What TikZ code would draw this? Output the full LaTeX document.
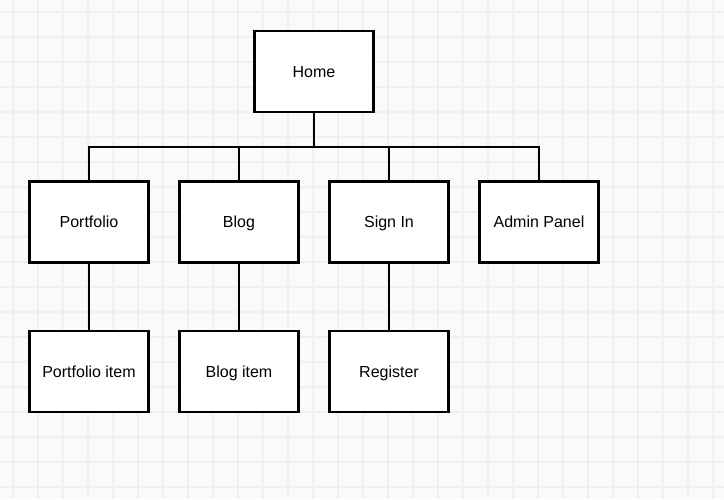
\documentclass[tikz,border=0pt]{standalone}
\usepackage{fontspec}
\setmainfont{Liberation Sans}

\tikzset{
  page/.style={draw, line width=2.8pt, fill=white, minimum width=119pt, minimum height=81pt,
    inner sep=0pt, text height=11.5pt, text depth=0pt, font=\fontsize{16}{19}\selectfont},
  link/.style={line width=2pt}
}

\begin{document}
\begin{tikzpicture}[x=1pt, y=-1pt]
  \fill[white!98!black] (0,0) rectangle (724,499);
  \useasboundingbox (0,0) rectangle (724,499);
  \foreach \i in {0,...,28} {
    \draw[white!94!black, line width=1.1pt] (13+25*\i,0) -- (13+25*\i,499);
  }
  \foreach \j in {0,...,19} {
    \draw[white!94!black, line width=1.1pt] (0,12+25*\j) -- (724,12+25*\j);
  }

  \node[page] (home) at (314,71.5) {Home};

  \node[page] (portfolio) at (89,222) {Portfolio};
  \node[page] (blog)      at (239,222) {Blog};
  \node[page] (signin)    at (389,222) {Sign In};
  \node[page] (admin)     at (539,222) {Admin Panel};

  \node[page] (item)     at (89,371.5) {Portfolio item};
  \node[page] (blogitem) at (239,371.5) {Blog item};
  \node[page] (register) at (389,371.5) {Register};

  \coordinate (bus) at (314,147);

  \draw[link] (home) -- (bus) -| (portfolio);
  \draw[link] (bus) -| (blog);
  \draw[link] (bus) -| (signin);
  \draw[link] (bus) -| (admin);

  \draw[link] (portfolio) -- (item);
  \draw[link] (blog) -- (blogitem);
  \draw[link] (signin) -- (register);
\end{tikzpicture}
\end{document}
